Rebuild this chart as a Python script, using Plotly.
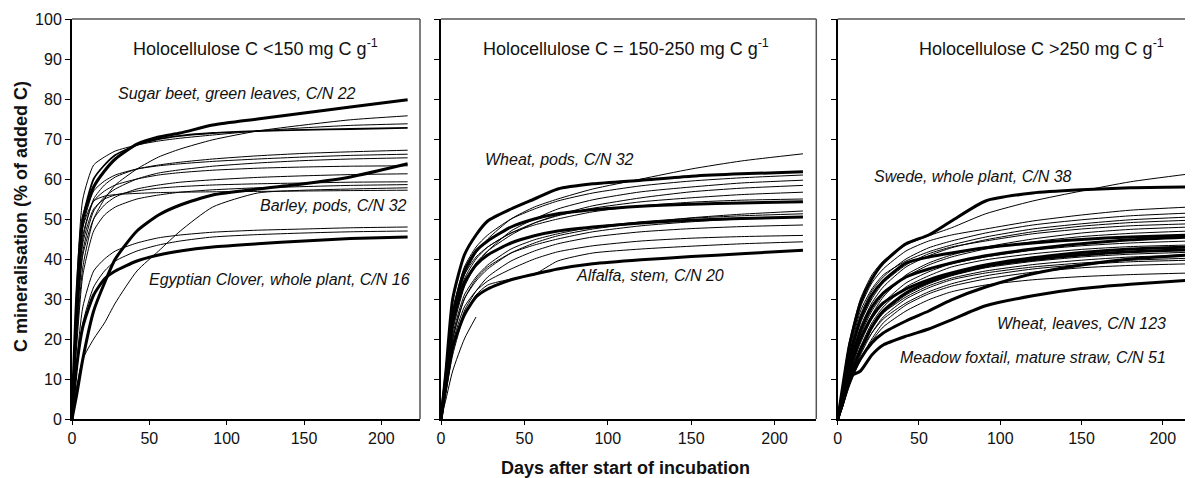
import plotly.graph_objects as go

# Sampling days shared by all curves
days = [0, 3, 7, 14, 21, 28, 42, 56, 70, 91, 120, 150, 180, 217]

# ---------- Panel 1: Holocellulose C <150 ----------
p1_thin = [
    [0, 20, 38, 50, 55, 58.5, 62.5, 65.5, 67.5, 69.8, 72, 73.5, 74.8, 75.8],
    [0, 33, 55, 63.5, 65.5, 67, 68.5, 69.5, 70.2, 71, 72, 72.8, 73.4, 73.8],
    [0, 25, 45, 55, 58.5, 60.5, 62.5, 63.5, 64.2, 65, 65.8, 66.4, 66.8, 67.2],
    [0, 27, 48, 57, 59.5, 61, 62.5, 63.3, 63.8, 64.4, 65, 65.5, 65.9, 66.2],
    [0, 22, 42, 52, 55.5, 57.5, 60, 61.5, 62.3, 63.2, 64, 64.6, 65, 65.3],
    [0, 26, 46, 54.5, 57, 58.5, 60, 61, 61.6, 62.2, 62.7, 63, 63.2, 63.3],
    [0, 22, 41, 50, 53.5, 55.5, 57.5, 58.5, 59.2, 59.8, 60.4, 60.8, 61.1, 61.3],
    [0, 24, 44, 52.5, 55, 56, 57, 57.7, 58.1, 58.5, 58.8, 59, 59.2, 59.3],
    [0, 18, 36, 47, 51, 53, 55, 56, 56.7, 57.3, 57.8, 58.1, 58.4, 58.6],
    [0, 8, 15, 20, 24, 29, 37, 42, 47, 53, 56.5, 57.2, 57.5, 57.8],
    [0, 28, 48, 54.5, 55.7, 56.1, 56.4, 56.6, 56.7, 56.8, 56.9, 57, 57.1, 57.2],
    [0, 14, 28, 37, 40, 42, 44, 45.3, 46, 46.7, 47.2, 47.5, 47.8, 48],
    [0, 12, 24, 33, 37, 39.5, 42, 43.5, 44.5, 45.5, 46.1, 46.5, 46.8, 47],
]
p1_medium = [
    [0, 28, 50, 60, 63.5, 66, 68.5, 70, 70.8, 71.5, 72, 72.3, 72.5, 72.8],
]
p1_thick = [
    [0, 30, 50, 58, 62, 65, 68.7, 70.5, 71.5, 73.5, 75, 76.5, 78, 79.8],
    [0, 6, 15, 27, 34, 40, 47, 51, 53.5, 56, 57.5, 58.8, 60.5, 63.8],
    [0, 13, 23, 31, 35, 37, 39.5, 41, 42, 43, 43.8, 44.5, 45.1, 45.5],
]

# ---------- Panel 2: Holocellulose C = 150-250 ----------
p2_thin = [
    [0, 10, 24, 36, 41.5, 45, 50, 53, 55, 57.5, 60, 62.5, 64.5, 66.3],
    [0, 11, 27, 38, 43, 46, 50, 52.5, 54.5, 56.5, 58.3, 59.5, 60.3, 61],
    [0, 9, 22, 33, 38.5, 42, 47, 50, 52.5, 54.8, 56.8, 58, 59, 59.7],
    [0, 10, 23, 34, 39, 42, 46, 49, 51, 53.3, 55.3, 56.8, 57.7, 58.4],
    [0, 11, 26, 36, 40.5, 43, 46.5, 49, 50.8, 52.7, 54.3, 55.3, 56.1, 56.7],
    [0, 10, 24, 35, 40, 43, 46.5, 48.5, 50, 51.8, 53.3, 54.2, 54.7, 55],
    [0, 8, 20, 30, 34.5, 37.5, 41.5, 44, 45.8, 47.5, 49, 50.3, 51.2, 52],
    [0, 9, 21, 31, 35.5, 38.5, 42.5, 44.8, 46.3, 48, 49.3, 50.2, 50.8, 51.3],
    [0, 9, 20, 30, 35, 38, 41.5, 43.5, 45, 46.8, 48.3, 49.3, 50, 50.5],
    [0, 7, 17, 27, 32, 35.5, 39.5, 42, 43.8, 45.5, 46.8, 47.6, 48.1, 48.5],
    [0, 8, 19, 28, 32, 34.5, 37.5, 40, 41.8, 43.3, 44.5, 45.2, 45.6, 45.9],
    [0, 7, 16, 26, 31, 33.5, 35, 36.2, 39.5, 41.5, 42.5, 43.2, 43.8, 44.3],
    [0, 5, 12, 20, 25.5, None, None, None, None, None, None, None, None, None],
]
p2_thick = [
    [0, 12, 30, 41, 46, 49.5, 52.5, 55, 57.5, 58.8, 59.7, 60.7, 61.3, 61.8],
    [0, 11, 26, 37, 42, 44.5, 48, 50, 51.3, 52.3, 53.2, 53.7, 54, 54.3],
    [0, 10, 24, 34, 38.5, 41, 44, 45.8, 47, 48, 49, 49.7, 50.1, 50.5],
    [0, 8, 18, 26, 30.5, 32.5, 34.8, 36.2, 37.5, 38.8, 39.8, 40.6, 41.3, 42.2],
]

# ---------- Panel 3: Holocellulose C >250 ----------
p3_thin = [
    [0, 8, 19, 30, 36, 39.5, 43.5, 45.8, 47.8, 51.3, 54.5, 57, 59.3, 61.3],
    [0, 7, 17, 28, 34, 37.5, 42, 44.5, 46, 47.5, 49.5, 51, 52.2, 53],
    [0, 6, 15, 26, 32, 35.5, 40, 42.8, 44.5, 46.5, 48.5, 49.8, 50.8, 51.5],
    [0, 7, 16, 27, 32.5, 36, 39.5, 41.8, 43.5, 45.5, 47.5, 48.8, 49.8, 50.5],
    [0, 5, 13, 23, 29, 33, 38, 40.8, 42.8, 44.8, 46.8, 48.2, 49.1, 49.7],
    [0, 6, 14, 24, 30, 34, 38.5, 41.3, 43, 44.5, 46.3, 47.5, 48.3, 48.8],
    [0, 5, 11, 20, 26, 30.5, 36, 39, 41, 43, 45, 46.5, 47.4, 48],
    [0, 5, 12, 21, 27, 31, 35.5, 38.5, 40.5, 42.5, 44.3, 45.6, 46.4, 47],
    [0, 5, 11, 19, 25, 29, 34, 36.8, 38.8, 40.5, 42.2, 43.3, 44, 44.5],
    [0, 4, 10, 18, 24, 28, 33, 35.8, 38, 39.8, 41.3, 42.4, 43.1, 43.5],
    [0, 4, 10, 17, 22.5, 26.5, 31, 33.8, 35.8, 37.8, 39.4, 40.5, 41.2, 41.7],
    [0, 5, 11, 18, 23, 26.5, 30.5, 33.3, 35.2, 37, 38.6, 39.7, 40.5, 41],
    [0, 3, 9, 16, 21.5, 25.5, 30, 32.8, 34.8, 36.5, 38, 39, 39.7, 40.2],
    [0, 4, 10, 17, 21.5, 25, 29, 31.8, 33.8, 35.8, 37.5, 38.6, 39.3, 39.7],
    [0, 3, 8, 15, 20, 24, 28.5, 31.3, 33.2, 35, 36.7, 37.8, 38.4, 38.8],
    [0, 3, 9, 15, 19.5, 23, 27, 29.8, 31.8, 33.5, 34.8, 35.6, 36.1, 36.5],
]
p3_thick = [
    [0, 8, 18, 29, 35, 39, 43.8, 46, 49.5, 54.5, 56.5, 57.3, 57.8, 58],
    [0, 6, 15, 25, 31, 34.5, 39, 40.5, 41.5, 42.8, 44, 44.9, 45.5, 46],
    [0, 5, 13, 22, 28, 31.5, 35.5, 37.5, 39, 40.8, 42.5, 43.8, 44.8, 45.5],
    [0, 5, 12, 20, 25.5, 29, 32.5, 34.8, 36.5, 38.5, 40.3, 41.6, 42.5, 43],
    [0, 4, 10, 17, 23, 27, 31.5, 34.2, 36.2, 38.2, 39.8, 41, 41.8, 42.3],
    [0, 4, 9, 15, 19, 21.5, 24.5, 27, 29.8, 33, 36.3, 38.5, 40, 41],
    [0, 4, 10.5, 12, 16, 18.5, 20.7, 22.5, 24.8, 28.3, 30.8, 32.6, 33.7, 34.7],
]

panel_titles = [
    "Holocellulose C &lt;150 mg C g<sup>-1</sup>",
    "Holocellulose C = 150-250 mg C g<sup>-1</sup>",
    "Holocellulose C &gt;250 mg C g<sup>-1</sup>",
]
x_ticks = [0, 50, 100, 150, 200]
y_ticks = list(range(0, 101, 10))

FONT = "Liberation Sans, Arial, Helvetica, sans-serif"
fig = go.Figure()

def add_curves(curves, xa, ya, width):
    for c in curves:
        fig.add_trace(go.Scatter(
            x=days, y=c, mode="lines", xaxis=xa, yaxis=ya,
            line=dict(color="black", width=width, shape="spline", smoothing=0.6),
            connectgaps=False, showlegend=False, hoverinfo="skip"))

add_curves(p1_thin, "x", "y", 1.0)
add_curves(p1_medium, "x", "y", 1.8)
add_curves(p1_thick, "x", "y", 3.0)
add_curves(p2_thin, "x2", "y2", 1.0)
add_curves(p2_thick, "x2", "y2", 3.0)
add_curves(p3_thin, "x3", "y3", 1.0)
add_curves(p3_thick, "x3", "y3", 3.0)

# The page body adds an 8 px offset; the figure is sized to the remaining window.
OFF = 8
W, H = 1193 - OFF, 478 - OFF
ML, MR, MT, MB = 72 - OFF, 0, 19 - OFF, 59
PW = W - ML - MR
PH = H - MT - MB

def fx(px):  # reference-window pixel -> paper fraction
    return (px - 72) / PW

def fy(py):
    return (419 - py) / PH

domains = [[0.0, fx(420)], [fx(441), fx(816.3)], [fx(837.7), 1.0]]
ranges = [[0, 225], [0, 225], [0, 218.6]]

axis_common = dict(showgrid=False, zeroline=False, showline=True, linecolor="black",
                   linewidth=2, ticks="outside", tickcolor="black", tickwidth=1.2,
                   tickfont=dict(family=FONT, size=16, color="#111"))
layout = dict(width=W, height=H, margin=dict(l=ML, r=MR, t=MT, b=MB),
              plot_bgcolor="white", paper_bgcolor="white", showlegend=False)
for i in range(3):
    sx = "" if i == 0 else str(i + 1)
    layout["xaxis" + sx] = dict(axis_common, domain=domains[i], range=ranges[i],
                                tickvals=x_ticks, ticklen=4,
                                anchor="y" + sx)
    layout["yaxis" + sx] = dict(axis_common, domain=[0, 1], range=[0, 100],
                                tickvals=y_ticks, ticklen=5,
                                showticklabels=(i == 0), anchor="x" + sx)
fig.update_layout(**layout)

# thin grey top / right frame lines
for i in range(3):
    sx = "" if i == 0 else str(i + 1)
    fig.add_shape(type="line", xref="x" + sx + " domain", yref="y" + sx + " domain",
                  x0=0, x1=1, y0=1, y1=1, line=dict(color="#555", width=1.5))
    if i < 2:
        fig.add_shape(type="line", xref="x" + sx + " domain", yref="y" + sx + " domain",
                      x0=1, x1=1, y0=0, y1=1, line=dict(color="#555", width=1.5))

# panel titles
title_x = [118.4, 110.7, 125.5]
for i in range(3):
    sx = "" if i == 0 else str(i + 1)
    fig.add_annotation(text=panel_titles[i], x=title_x[i], y=93, xref="x" + sx, yref="y" + sx,
                       showarrow=False, xanchor="center", yanchor="middle",
                       font=dict(family=FONT, size=18, color="#111"))

labels = [
    ("Sugar beet, green leaves, C/N 22", "x", "y", 28.5, 81.4, "left"),
    ("Barley, pods, C/N 32", "x", "y", 120.4, 53.5, "left"),
    ("Egyptian Clover, whole plant, C/N 16", "x", "y", 48.5, 35.0, "left"),
    ("Wheat, pods, C/N 32", "x2", "y2", 25.2, 64.8, "left"),
    ("Alfalfa, stem, C/N 20", "x2", "y2", 79.8, 35.8, "left"),
    ("Swede, whole plant, C/N 38", "x3", "y3", 21.1, 60.6, "left"),
    ("Wheat, leaves, C/N 123", "x3", "y3", 203.3, 24.0, "right"),
    ("Meadow foxtail, mature straw, C/N 51", "x3", "y3", 203.3, 15.3, "right"),
]
for t, xa, ya, xv, yv, anc in labels:
    fig.add_annotation(text="<i>" + t + "</i>", x=xv, y=yv, xref=xa, yref=ya,
                       showarrow=False, xanchor=anc, yanchor="middle",
                       font=dict(family=FONT, size=16, color="#111"))

# axis titles (paper coordinates are relative to the plotting area)
fig.add_annotation(text="<b>C mineralisation (% of added C)</b>", x=fx(21), y=fy(217),
                   xref="paper", yref="paper", textangle=-90, showarrow=False,
                   xanchor="center", yanchor="middle",
                   font=dict(family=FONT, size=18, color="#111"))
fig.add_annotation(text="<b>Days after start of incubation</b>", x=fx(625), y=fy(468),
                   xref="paper", yref="paper", showarrow=False,
                   xanchor="center", yanchor="middle",
                   font=dict(family=FONT, size=18, color="#111"))

fig.write_html("out.html")
